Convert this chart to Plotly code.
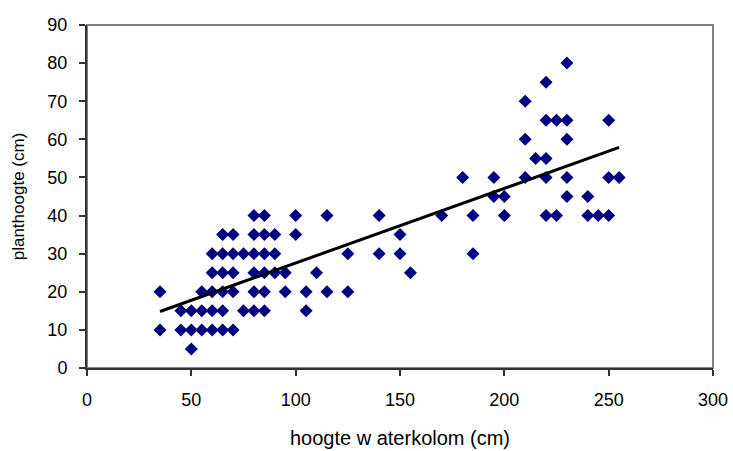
import numpy as np
import plotly.graph_objects as go

# Data: (water column height, plant height) grouped by plant height
y_levels = [5, 10, 15, 20, 25, 30, 35, 40, 45, 50, 55, 60, 65, 70, 75, 80]
x_by_level = [
    [50],
    [35, 45, 50, 55, 60, 65, 70],
    [45, 50, 55, 60, 65, 75, 80, 85, 105],
    [35, 55, 60, 65, 70, 80, 85, 95, 105, 115, 125],
    [60, 65, 70, 80, 85, 90, 95, 110, 155],
    [60, 65, 70, 75, 80, 85, 90, 125, 140, 150, 185],
    [65, 70, 80, 85, 90, 100, 150],
    [80, 85, 100, 115, 140, 170, 185, 200, 220, 225, 240, 245, 250],
    [195, 200, 230, 240],
    [180, 195, 210, 220, 230, 250, 255],
    [215, 220],
    [210, 230],
    [220, 225, 230, 250],
    [210],
    [220],
    [230],
]

x_vals = []
y_vals = []
for yl, xs in zip(y_levels, x_by_level):
    for xv in xs:
        x_vals.append(xv)
        y_vals.append(yl)
x_vals = np.array(x_vals, dtype=float)
y_vals = np.array(y_vals, dtype=float)

slope, intercept = np.polyfit(x_vals, y_vals, 1)
x_fit = np.array([x_vals.min(), x_vals.max()])
y_fit = slope * x_fit + intercept

x_ticks = [0, 50, 100, 150, 200, 250, 300]
y_ticks = [0, 10, 20, 30, 40, 50, 60, 70, 80, 90]

fig = go.Figure()
fig.add_trace(go.Scatter(
    x=x_vals, y=y_vals, mode="markers",
    marker=dict(symbol="diamond", size=10, color="#000080", line=dict(width=0)),
    showlegend=False,
))
fig.add_trace(go.Scatter(
    x=x_fit, y=y_fit, mode="lines",
    line=dict(color="black", width=3),
    showlegend=False,
))

fam = "Liberation Sans, Arial, sans-serif"
tick_font = dict(family=fam, size=18, color="black")
xtitle_font = dict(family=fam, size=20, color="black")
ytitle_font = dict(family=fam, size=17, color="black")

fig.update_layout(
    width=733, height=451,
    margin=dict(l=87, r=20, t=25, b=83),
    paper_bgcolor="white", plot_bgcolor="white",
    font=tick_font,
    xaxis=dict(
        range=[0, 300], tickvals=x_ticks, ticktext=[str(v) for v in x_ticks],
        showgrid=False, zeroline=False, automargin=False,
        showline=True, linecolor="#333333", linewidth=2,
        ticks="outside", ticklen=6, tickwidth=1.5, tickcolor="#333333",
        ticklabelstandoff=8,
        title=dict(text="hoogte w aterkolom (cm)", font=xtitle_font, standoff=22),
        tickfont=tick_font,
    ),
    yaxis=dict(
        range=[0, 90], tickvals=y_ticks, ticktext=[str(v) for v in y_ticks],
        showgrid=False, zeroline=False, automargin=False,
        showline=True, linecolor="#333333", linewidth=2,
        ticks="outside", ticklen=6, tickwidth=1.5, tickcolor="#333333",
        ticklabelstandoff=8,
        title=dict(text="planthoogte (cm)", font=ytitle_font, standoff=18),
        tickfont=tick_font,
    ),
    shapes=[dict(
        type="rect", xref="paper", yref="paper", x0=0, y0=0, x1=1, y1=1,
        line=dict(color="#808080", width=2), layer="below",
    )],
)

fig.write_html("out.html")
